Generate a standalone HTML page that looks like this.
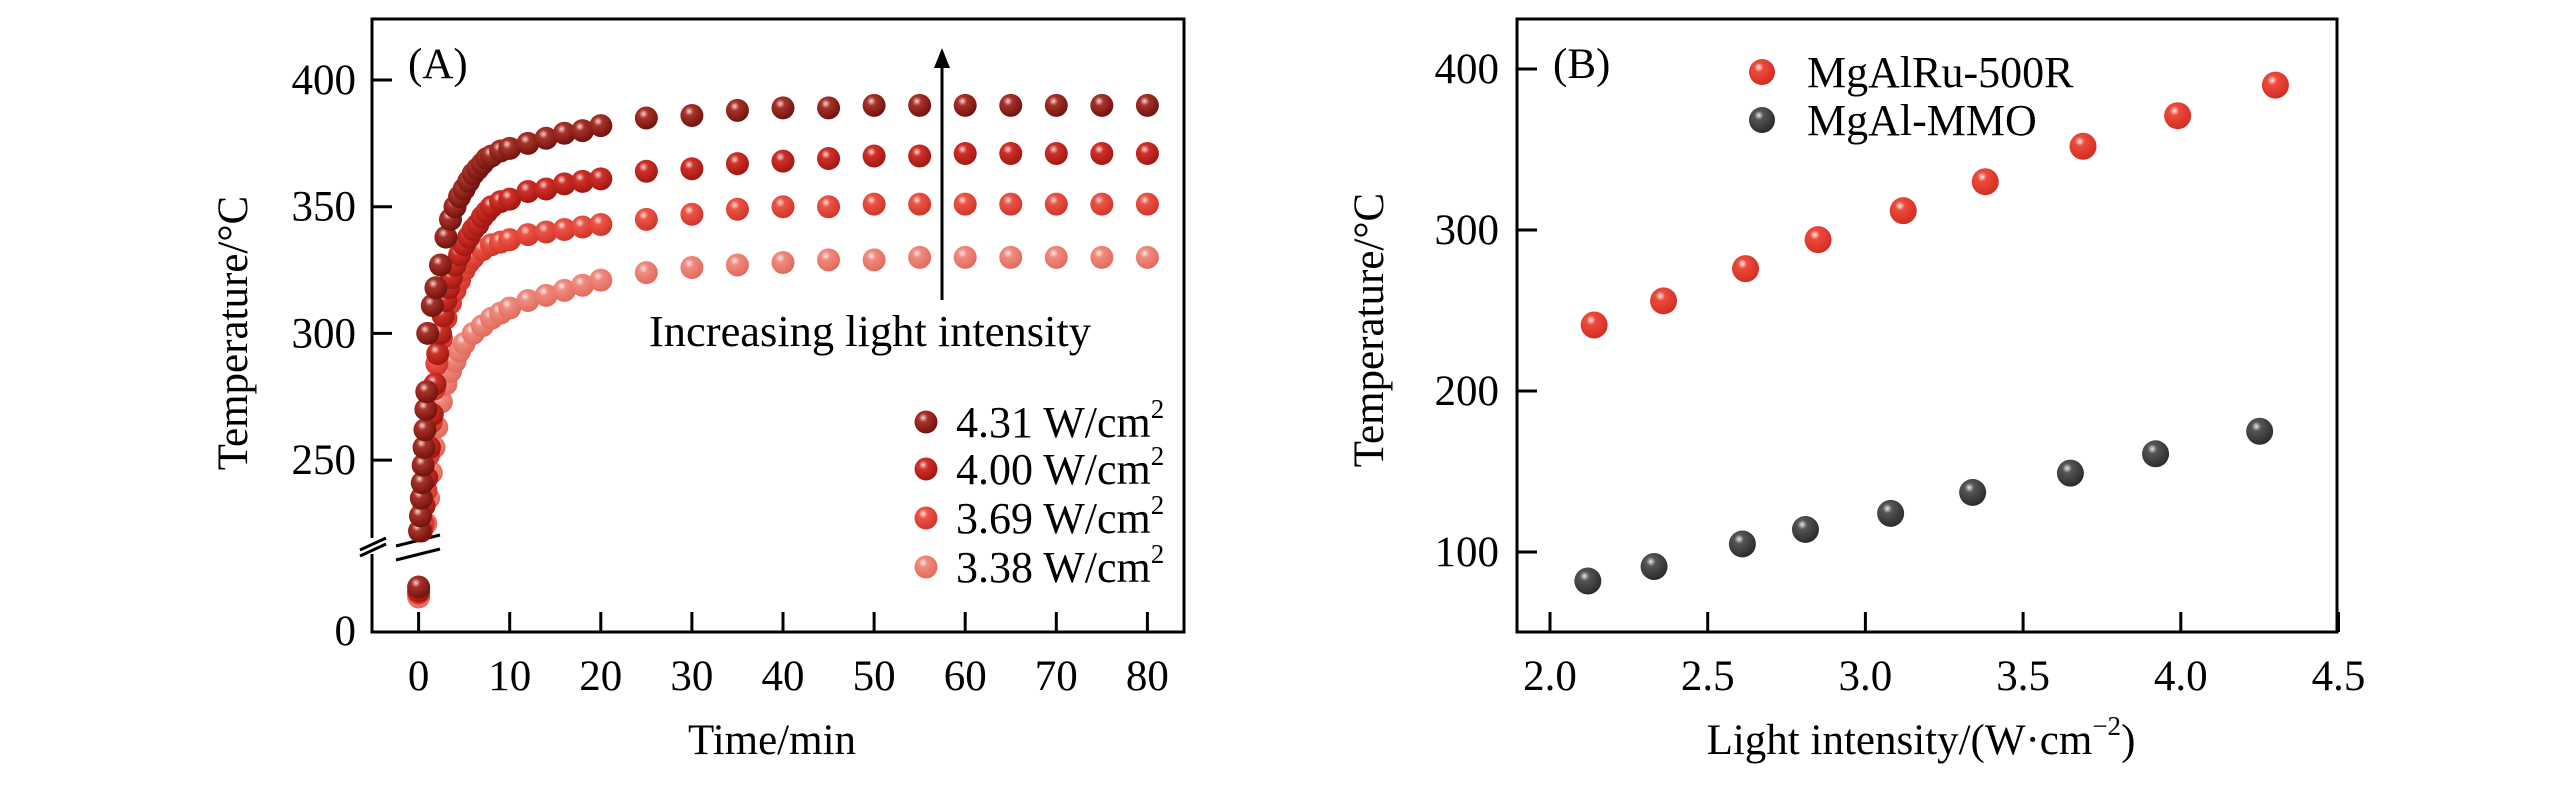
<!DOCTYPE html>
<html><head><meta charset="utf-8"><style>
html,body{margin:0;padding:0;background:#fff;}
svg{display:block;font-family:"Liberation Serif","Times New Roman",serif;}
</style></head><body>
<svg id="chart" width="2567" height="787" viewBox="0 0 2567 787" xmlns="http://www.w3.org/2000/svg">
<defs>
<radialGradient id="gS1" cx="0.38" cy="0.32" r="0.7"><stop offset="0" stop-color="#f3d6d0"/><stop offset="0.28" stop-color="#a8322a"/><stop offset="1" stop-color="#6e120c"/></radialGradient>
<radialGradient id="gS2" cx="0.38" cy="0.32" r="0.7"><stop offset="0" stop-color="#f8d8d2"/><stop offset="0.28" stop-color="#d0302a"/><stop offset="1" stop-color="#a0160f"/></radialGradient>
<radialGradient id="gS3" cx="0.38" cy="0.32" r="0.7"><stop offset="0" stop-color="#fde0da"/><stop offset="0.28" stop-color="#ec5446"/><stop offset="1" stop-color="#cf3428"/></radialGradient>
<radialGradient id="gS4" cx="0.38" cy="0.32" r="0.7"><stop offset="0" stop-color="#fde8e4"/><stop offset="0.28" stop-color="#f08a7e"/><stop offset="1" stop-color="#e06a5c"/></radialGradient>
<radialGradient id="gRed" cx="0.38" cy="0.32" r="0.7"><stop offset="0" stop-color="#fff0ec"/><stop offset="0.25" stop-color="#ee4a3c"/><stop offset="1" stop-color="#d02e22"/></radialGradient>
<radialGradient id="gGray" cx="0.38" cy="0.32" r="0.7"><stop offset="0" stop-color="#e8e8e8"/><stop offset="0.25" stop-color="#555"/><stop offset="1" stop-color="#2a2a2a"/></radialGradient>
</defs>
<g id="panelA"></g>
<g id="panelB"></g>
</svg>
<script>
// ---------- Panel A data ----------
const seriesLabelsA = ["4.31 W/cm", "4.00 W/cm", "3.69 W/cm", "3.38 W/cm"];
const s1Time = [0,0.1,0.2,0.3,0.4,0.5,0.6,0.7,0.8,0.9,1.0,1.5,1.9,2.4,3,3.5,4,4.5,5,5.5,6,6.5,7,7.5,8,9,10,12,14,16,18,20,25,30,35,40,45,50,55,60,65,70,75,80];
const s1Temp = [22,222,228,235,241,248,255,262,270,277,300,311,318,327,338,345,350,354,357,360,363,365,367,369,370,372,373,375,377,379,380,382,385,386,388,389,389,390,390,390,390,390,390,390];
const s2Time = [0,0.3,0.6,0.9,1.2,1.5,1.8,2.1,2.4,2.7,3,3.3,3.6,4,4.5,5,5.5,6,6.5,7,7.5,8,9,10,12,14,16,18,20,25,30,35,40,45,50,55,60,65,70,75,80];
const s2Temp = [20,222,232,243,255,268,280,292,300,307,313,318,322,327,331,335,338,341,343,346,348,350,352,353,356,357,359,360,361,364,365,367,368,369,370,370,371,371,371,371,371];
const s3Time = [0,0.5,0.8,1.1,1.4,1.7,2,2.5,3,3.5,4,4.5,5,5.5,6,7,8,9,10,12,14,16,18,20,25,30,35,40,45,50,55,60,65,70,75,80];
const s3Temp = [19,225,238,252,265,278,288,298,306,312,317,321,325,328,330,333,335,336,337,339,340,341,342,343,345,347,349,350,350,351,351,351,351,351,351,351];
const s4Time = [0,0.8,1.1,1.4,1.7,2,2.5,3,3.5,4,4.5,5,6,7,8,9,10,12,14,16,18,20,25,30,35,40,45,50,55,60,65,70,75,80];
const s4Temp = [17,225,235,245,255,263,273,280,285,289,293,296,300,303,306,308,310,313,315,317,319,321,324,326,327,328,329,329,330,330,330,330,330,330];
const xTicksA = [0,10,20,30,40,50,60,70,80];
const yTicksA = [250,300,350,400];

// ---------- Panel B data ----------
const legendB = ["MgAlRu-500R","MgAl-MMO"];
const redX = [2.14,2.36,2.62,2.85,3.12,3.38,3.69,3.99,4.30];
const redY = [241,256,276,294,312,330,352,371,390];
const grayX = [2.12,2.33,2.61,2.81,3.08,3.34,3.65,3.92,4.25];
const grayY = [82,91,105,114,124,137,149,161,175];
const xTicksB = [2.0,2.5,3.0,3.5,4.0,4.5];
const yTicksB = [100,200,300,400];

const NS = "http://www.w3.org/2000/svg";
function mk(tag, attrs, parent, text){
  const e = document.createElementNS(NS, tag);
  for (const k in attrs) e.setAttribute(k, attrs[k]);
  if (text !== undefined) e.textContent = text;
  parent.appendChild(e);
  return e;
}
const A = document.getElementById('panelA');
const B = document.getElementById('panelB');

// ---------- Panel A ----------
const xA = t => 418.6 + t * 9.11;
const yA = v => v >= 216 ? 80 + (400 - v) * 2.534 : 631 - v * 2.0;

const frameA = mk('rect', {x:372, y:19, width:812, height:613, fill:'none', stroke:'#000', 'stroke-width':3}, A);



xTicksA.forEach(t => {
  const l = mk('line', {x1:xA(t), x2:xA(t), y1:632, y2:612, stroke:'#000', 'stroke-width':3}, A);
  
  
  const tx = mk('text', {x:xA(t), y:690, 'font-size':43, 'text-anchor':'middle'}, A, String(t));
  
  
});
yTicksA.forEach(v => {
  const l = mk('line', {x1:372, x2:392, y1:yA(v), y2:yA(v), stroke:'#000', 'stroke-width':3}, A);
  
  
  const tx = mk('text', {x:356, y:yA(v)+14, 'font-size':43, 'text-anchor':'end'}, A, String(v));
  
  
});
const zeroLbl = mk('text', {x:356, y:645, 'font-size':43, 'text-anchor':'end'}, A, '0');



// axis break
const brkCover = mk('rect', {x:366, y:538, width:12, height:16, fill:'#fff'}, A);


[[360,550,386,538],[360,556,386,544],[396,546,440,535],[396,560,440,549]].forEach(c => {
  const l = mk('line', {x1:c[0], y1:c[1], x2:c[2], y2:c[3], stroke:'#000', 'stroke-width':3}, A);
  
  
});

const seriesA = [[s4Time,s4Temp,'gS4'],[s3Time,s3Temp,'gS3'],[s2Time,s2Temp,'gS2'],[s1Time,s1Temp,'gS1']];
seriesA.forEach(s => {
  const g = mk('g', {}, A);
  
  
  s[0].forEach((t, i) => {
    const c = mk('circle', {cx:xA(t), cy:yA(s[1][i]), r:11.5, fill:'url(#' + s[2] + ')'}, g);
    
    
  });
});

const lblA = mk('text', {x:408, y:78, 'font-size':43}, A, '(A)');



const arrow = mk('line', {x1:942, y1:300, x2:942, y2:62, stroke:'#000', 'stroke-width':3}, A);


const head = mk('path', {d:'M942,48 L934,68 L950,68 Z', fill:'#000'}, A);


const ann = mk('text', {x:649, y:346, 'font-size':44, textLength:442, lengthAdjust:'spacingAndGlyphs'}, A, 'Increasing light intensity');



const legYs = [422, 469, 518, 567];
const legGrads = ['gS1','gS2','gS3','gS4'];
seriesLabelsA.forEach((lab, i) => {
  const c = mk('circle', {cx:926, cy:legYs[i], r:11.5, fill:'url(#' + legGrads[i] + ')'}, A);
  
  
  const t = mk('text', {x:956, y:legYs[i]+15, 'font-size':44}, A, lab);
  
  
  const sup = mk('tspan', {'font-size':27, dy:-19}, t, '2');
  
  
});

const ylA = mk('text', {transform:'translate(247,333) rotate(-90)', 'font-size':43, 'text-anchor':'middle'}, A, 'Temperature/°C');


const xlA = mk('text', {x:772, y:754, 'font-size':43, 'text-anchor':'middle'}, A, 'Time/min');



// ---------- Panel B ----------
const xB = v => 1550 + (v - 2.0) * 315.4;
const yB = v => 69 + (400 - v) * 1.61;

const frameB = mk('rect', {x:1517, y:19, width:820, height:613, fill:'none', stroke:'#000', 'stroke-width':3}, B);



xTicksB.forEach(v => {
  const l = mk('line', {x1:xB(v), x2:xB(v), y1:632, y2:612, stroke:'#000', 'stroke-width':3}, B);
  
  
  const tx = mk('text', {x:xB(v), y:690, 'font-size':43, 'text-anchor':'middle'}, B, v.toFixed(1));
  
  
});
yTicksB.forEach(v => {
  const l = mk('line', {x1:1517, x2:1537, y1:yB(v), y2:yB(v), stroke:'#000', 'stroke-width':3}, B);
  
  
  const tx = mk('text', {x:1499, y:yB(v)+14, 'font-size':43, 'text-anchor':'end'}, B, String(v));
  
  
});

const gRed = mk('g', {}, B);


redX.forEach((x, i) => {
  const c = mk('circle', {cx:xB(x), cy:yB(redY[i]), r:13.5, fill:'url(#gRed)'}, gRed);
  
  
});
const gGray = mk('g', {}, B);


grayX.forEach((x, i) => {
  const c = mk('circle', {cx:xB(x), cy:yB(grayY[i]), r:13.5, fill:'url(#gGray)'}, gGray);
  
  
});

const lblB = mk('text', {x:1553, y:78, 'font-size':43}, B, '(B)');



const legBY = [72, 120];
const legBG = ['gRed','gGray'];
legendB.forEach((lab, i) => {
  const c = mk('circle', {cx:1762, cy:legBY[i], r:13, fill:'url(#' + legBG[i] + ')'}, B);
  
  
  const t = mk('text', {x:1807, y:legBY[i]+15, 'font-size':44}, B, lab);
  
  
});

const ylB = mk('text', {transform:'translate(1383,330) rotate(-90)', 'font-size':43, 'text-anchor':'middle'}, B, 'Temperature/°C');


const xlB = mk('text', {x:1921, y:754, 'font-size':43, 'text-anchor':'middle'}, B, 'Light intensity/(W·cm');


const supB = mk('tspan', {'font-size':27, dy:-19}, xlB, '−2');


const closeB = mk('tspan', {dy:19}, xlB, ')');


</script>
</body></html>
